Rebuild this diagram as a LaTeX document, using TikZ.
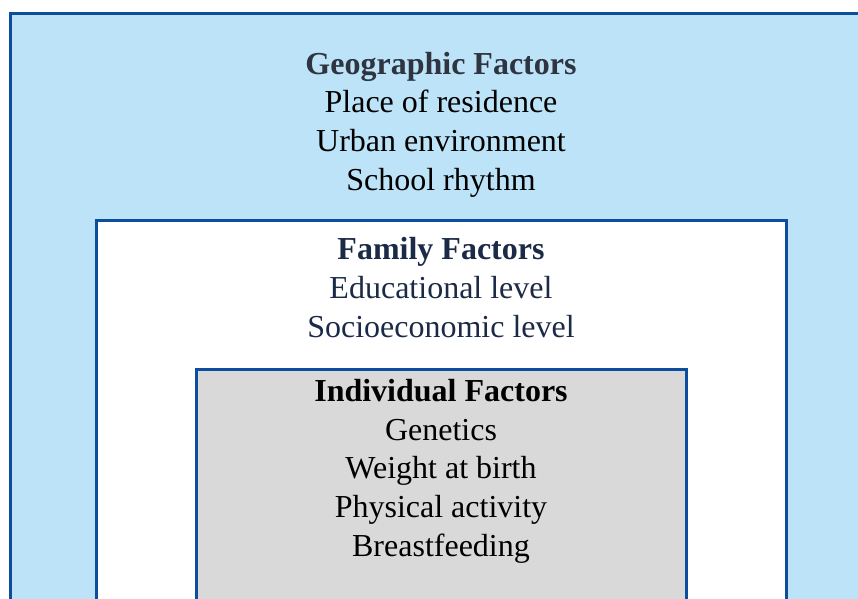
\documentclass[tikz,border=0pt]{standalone}
\usepackage{fontspec}
\setmainfont{Liberation Serif}
\usepackage{tikz}
\usetikzlibrary{positioning}

\definecolor{geoFill}{RGB}{189,227,248}
\definecolor{boxLine}{RGB}{12,77,158}
\definecolor{indFill}{RGB}{217,217,217}
\definecolor{geoHead}{RGB}{46,52,64}
\definecolor{famText}{RGB}{27,42,71}

\tikzset{
    layer/.style={draw=boxLine, line width=3pt},
    factors/.style={align=center, inner sep=0pt, anchor=base,
        font=\fontsize{32}{38.6}\selectfont}
}

\begin{document}
\begin{tikzpicture}[x=1pt, y=-1pt]
    \useasboundingbox (0,0) rectangle (858,598);
    \clip (0,0) rectangle (858,598);
    % nested boxes, cut off at the page edge
    \draw[layer, fill=geoFill] (10,13) rectangle (900,640);
    \draw[layer, fill=white] (96,220) rectangle (786,640);
    \draw[layer, fill=indFill] (196,369) rectangle (686,640);

    % base anchor sits on the last line
    \node[factors] (geo) at (441,190) {
        \textcolor{geoHead}{\textbf{Geographic Factors}}\\
        Place of residence\\
        Urban environment\\
        School rhythm
    };
    \node[factors, text=famText] (fam) at (441,337) {
        \textbf{Family Factors}\\
        Educational level\\
        Socioeconomic level
    };
    \node[factors] (ind) at (441,556) {
        \textbf{Individual Factors}\\
        Genetics\\
        Weight at birth\\
        Physical activity\\
        Breastfeeding
    };
\end{tikzpicture}
\end{document}
